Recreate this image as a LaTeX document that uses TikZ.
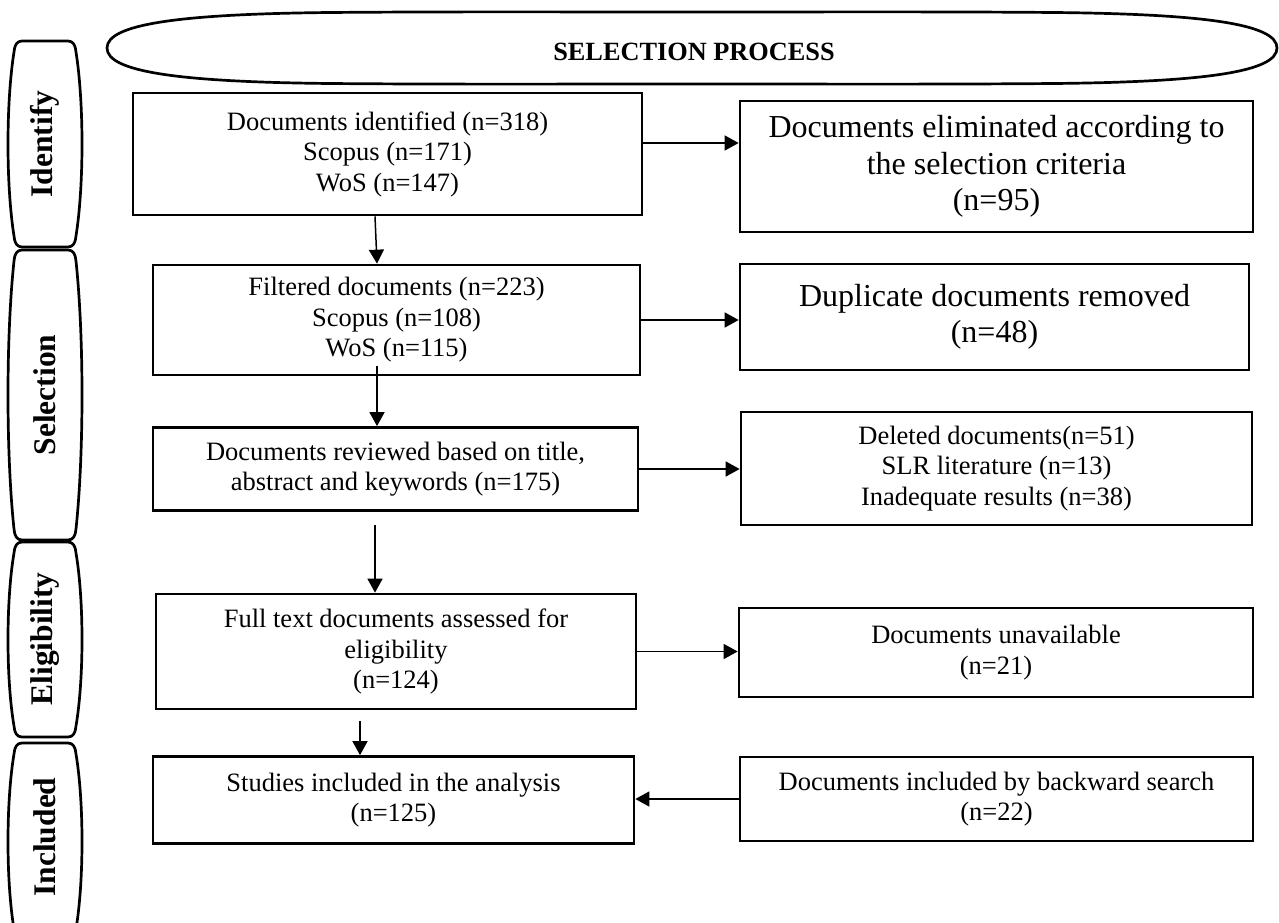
\documentclass[tikz,border=0pt]{standalone}
\usepackage{fontspec}
\setmainfont{Liberation Serif}
\usetikzlibrary{arrows.meta}
\newcommand\normtext{\fontsize{26.5}{30.5}\selectfont}
\newcommand\bigtext{\fontsize{32}{36.5}\selectfont}
\newcommand\sidetext{\fontsize{31.5}{36}\selectfont\bfseries}
\newcommand\titletext{\fontsize{26.3}{30}\selectfont\bfseries}
\newcommand\mybar[2]{%
  \draw[barline] (22,#1) -- (68,#1)
    .. controls (73,#1) and (75.5,{#1+4}) .. (76,{#1+11})
    .. controls (84,{#1+0.3*(#2-#1)}) and (84,{#2-0.3*(#2-#1)}) .. (76,{#2-11})
    .. controls (75.5,{#2-4}) and (73,#2) .. (68,#2)
    -- (22,#2)
    .. controls (17,#2) and (14.5,{#2-4}) .. (14,{#2-11})
    .. controls (6,{#2-0.3*(#2-#1)}) and (6,{#1+0.3*(#2-#1)}) .. (14,{#1+11})
    .. controls (14.5,{#1+4}) and (17,#1) .. (22,#1) -- cycle;}
\tikzset{
  box/.style={draw, line width=2.7pt, align=center, font=\normtext, inner sep=0pt},
  bigbox/.style={box, font=\bigtext},
  arr/.style={line width=1.5pt, -{Triangle[length=14pt,width=15pt]}},
  barline/.style={line width=2.7pt, line join=round},
  sidelabel/.style={rotate=90, font=\sidetext, inner sep=0pt},
}
\begin{document}
\begin{tikzpicture}[x=1pt,y=-1pt]
\useasboundingbox (0,0) rectangle (1279,923);
\clip (0,0) rectangle (1279,923);
\fill[white] (0,0) rectangle (1279,923);

% title ellipse
\draw[line width=2.7pt, line join=round] (107,48)
  .. controls (107,24) and (180,14) .. (330,12.5)
  .. controls (450,11.5) and (560,12) .. (692,12)
  .. controls (824,12) and (934,11.5) .. (1054,12.5)
  .. controls (1204,14) and (1277,24) .. (1277,48)
  .. controls (1277,72) and (1204,82) .. (1054,83.5)
  .. controls (934,84.5) and (824,84) .. (692,84)
  .. controls (560,84) and (450,84.5) .. (330,83.5)
  .. controls (180,82) and (107,72) .. (107,48) -- cycle;
\node[font=\titletext, inner sep=0pt] (title) at (694,52) {SELECTION PROCESS};

% side bars
\mybar{41}{247}
\mybar{250}{540}
\mybar{542}{737}
\mybar{743}{940}
\node[sidelabel] (lid) at (45,144) {Identify};
\node[sidelabel] (lsel) at (45,395) {Selection};
\node[sidelabel] (lel) at (45,639) {Eligibility};
\node[sidelabel] (linc) at (45,837) {Included};

% left column
\node[box, minimum width=509pt, minimum height=122pt] (b1) at (387.5,154)
  {Documents identified (n=318)\\ Scopus (n=171)\\ WoS (n=147)};
\node[box, minimum width=487pt, minimum height=110pt] (b2) at (396.5,320)
  {Filtered documents (n=223)\\ Scopus (n=108)\\ WoS (n=115)};
\node[box, minimum width=485pt, minimum height=83pt] (b3) at (395.5,469)
  {Documents reviewed based on title,\\ abstract and keywords (n=175)};
\node[box, minimum width=480pt, minimum height=115pt] (b4) at (396,651.5)
  {Full text documents assessed for\\ eligibility\\ (n=124)};
\node[box, minimum width=481pt, minimum height=87pt] (b5) at (393.5,800)
  {Studies included in the analysis\\ (n=125)};

% right column
\node[bigbox, minimum width=513pt, minimum height=131pt] (r1) at (996.5,166.5)
  {Documents eliminated according to\\ the selection criteria\\ (n=95)};
\node[bigbox, minimum width=509pt, minimum height=106pt] (r2) at (994.5,317)
  {Duplicate documents removed\\ (n=48)};
\node[box, minimum width=511pt, minimum height=113pt] (r3) at (996.5,468.5)
  {Deleted documents(n=51)\\ SLR literature (n=13)\\ Inadequate results (n=38)};
\node[box, minimum width=514pt, minimum height=89pt] (r4) at (996,652.5)
  {Documents unavailable\\ (n=21)};
\node[box, minimum width=513pt, minimum height=84pt] (r5) at (996.5,799)
  {Documents included by backward search\\ (n=22)};

% horizontal connectors
\draw[arr] ([yshift=11pt]b1.east) -- ([yshift=11pt]b1.east -| r1.west);
\draw[arr] (b2.east) -- (b2.east -| r2.west);
\draw[arr] (b3.east) -- (b3.east -| r3.west);
\draw[arr] (b4.east) -- (b4.east -| r4.west);
\draw[arr] (r5.west) -- (r5.west -| b5.east);

% vertical connectors
\draw[arr] ([xshift=-12.5pt]b1.south) -- ([xshift=-19.5pt]b2.north);
\draw[arr] ([xshift=-19.5pt,yshift=10pt]b2.south) -- ([xshift=-18.5pt]b3.north);
\draw[arr] ([xshift=-20.5pt,yshift=-13pt]b3.south) -- ([xshift=-21pt]b4.north);
\draw[arr] ([xshift=-36pt,yshift=-11pt]b4.south) -- ([xshift=-33.5pt]b5.north);
\end{tikzpicture}
\end{document}
